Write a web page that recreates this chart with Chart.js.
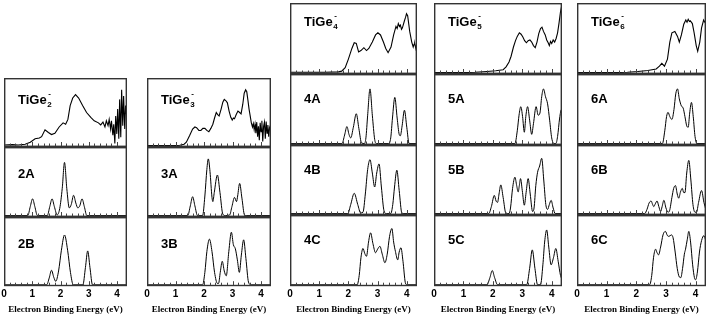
<!DOCTYPE html>
<html>
<head>
<meta charset="utf-8">
<script src="https://cdn.jsdelivr.net/npm/chart.js@4.4.1/dist/chart.umd.min.js"></script>
<style>
  html, body { margin: 0; padding: 0; background: #fff; }
  body { width: 709px; height: 316px; position: relative; overflow: hidden; }
  canvas { position: absolute; }
</style>
</head>
<body>
<script>
// --- data: [binding energy (eV), relative intensity (0..1 of panel height)] ---
const exp2 = [[0,.03],[0.3,.035],[0.5,.03],[0.75,.04],[0.93,.07],[1.1,.12],[1.25,.13],[1.33,.15],[1.45,.25],[1.57,.21],[1.68,.18],[1.8,.2],[1.95,.29],[2.09,.35],[2.18,.33],[2.26,.4],[2.34,.6],[2.43,.71],[2.53,.76],[2.64,.71],[2.78,.6],[2.92,.5],[3.07,.43],[3.19,.38],[3.34,.35],[3.42,.32],[3.5,.36],[3.57,.29],[3.62,.38],[3.68,.31],[3.72,.4],[3.77,.26],[3.8,.38],[3.85,.17],[3.88,.33],[3.92,.05],[3.95,.45],[3.99,.19],[4.02,.55],[4.06,.12],[4.09,.69],[4.13,.14],[4.16,.83],[4.2,.31],[4.23,.74],[4.27,.26],[4.3,.6],[4.35,.4]];
const sim2A = [[0,.02],[0.84,.02],[0.93,.15],[1.01,.26],[1.09,.15],[1.18,.02],[1.53,.02],[1.62,.15],[1.70,.26],[1.78,.15],[1.88,.03],[1.97,.12],[2.06,.41],[2.14,.78],[2.22,.41],[2.31,.13],[2.38,.18],[2.46,.31],[2.54,.2],[2.61,.13],[2.68,.16],[2.76,.26],[2.84,.15],[2.93,.02],[4.35,.02]];
const sim2B = [[0,.02],[1.51,.02],[1.6,.12],[1.68,.23],[1.76,.13],[1.83,.07],[1.93,.22],[2.03,.52],[2.14,.74],[2.25,.52],[2.35,.2],[2.45,.02],[2.79,.02],[2.88,.27],[2.96,.51],[3.04,.27],[3.13,.02],[4.35,.02]];

const exp3 = [[0,.02],[0.5,.02],[1.0,.02],[1.15,.025],[1.3,.04],[1.38,.07],[1.5,.17],[1.6,.26],[1.68,.29],[1.74,.28],[1.82,.24],[1.89,.24],[1.96,.27],[2.03,.27],[2.1,.24],[2.17,.22],[2.24,.27],[2.31,.33],[2.37,.42],[2.43,.5],[2.48,.47],[2.53,.45],[2.6,.55],[2.66,.65],[2.71,.69],[2.77,.67],[2.82,.64],[2.88,.52],[2.94,.43],[2.99,.39],[3.03,.42],[3.07,.41],[3.13,.47],[3.19,.52],[3.25,.5],[3.3,.48],[3.36,.62],[3.41,.78],[3.46,.83],[3.5,.8],[3.54,.68],[3.58,.55],[3.62,.45],[3.66,.35],[3.7,.29],[3.73,.34],[3.76,.25],[3.79,.33],[3.82,.2],[3.85,.36],[3.88,.15],[3.91,.3],[3.94,.1],[3.97,.35],[4.0,.22],[4.03,.38],[4.06,.08],[4.09,.3],[4.12,.36],[4.15,.12],[4.18,.37],[4.21,.2],[4.24,.32],[4.27,.15],[4.3,.28],[4.35,.22]];
const sim3A = [[0,.02],[1.43,.02],[1.52,.16],[1.6,.29],[1.68,.16],[1.77,.02],[1.95,.02],[2.03,.3],[2.1,.68],[2.15,.83],[2.21,.65],[2.28,.28],[2.31,.22],[2.36,.35],[2.47,.6],[2.56,.35],[2.66,.04],[2.75,.02],[2.9,.03],[2.98,.15],[3.07,.28],[3.14,.22],[3.18,.3],[3.25,.48],[3.33,.27],[3.42,.03],[3.5,.02],[4.35,.02]];
const sim3B = [[0,.02],[1.95,.02],[2.03,.2],[2.1,.5],[2.19,.68],[2.28,.5],[2.37,.2],[2.47,.04],[2.51,.04],[2.57,.2],[2.64,.36],[2.71,.22],[2.78,.15],[2.87,.5],[2.96,.78],[3.03,.6],[3.1,.54],[3.17,.38],[3.24,.2],[3.31,.45],[3.39,.67],[3.47,.4],[3.56,.06],[3.65,.02],[4.35,.02]];

const exp4 = [[0,.025],[0.6,.025],[1.2,.025],[1.66,.03],[1.77,.04],[1.89,.09],[2.0,.21],[2.12,.36],[2.2,.44],[2.27,.43],[2.35,.31],[2.43,.33],[2.53,.37],[2.62,.33],[2.7,.36],[2.82,.45],[2.93,.55],[3.01,.58],[3.1,.55],[3.2,.45],[3.28,.36],[3.36,.3],[3.46,.38],[3.55,.55],[3.63,.67],[3.67,.64],[3.71,.71],[3.75,.67],[3.78,.69],[3.82,.63],[3.85,.65],[3.92,.75],[3.96,.8],[3.99,.85],[4.03,.82],[4.1,.6],[4.17,.45],[4.22,.38],[4.25,.42],[4.27,.43],[4.31,.36],[4.35,.45]];
const sim4A = [[0,.02],[1.78,.02],[1.87,.14],[1.95,.26],[2.02,.15],[2.08,.1],[2.17,.25],[2.27,.44],[2.36,.23],[2.45,.03],[2.55,.02],[2.6,.1],[2.66,.42],[2.74,.79],[2.82,.42],[2.9,.08],[2.96,.02],[3.38,.02],[3.45,.1],[3.51,.38],[3.59,.67],[3.67,.38],[3.74,.15],[3.78,.13],[3.84,.27],[3.92,.49],[4.0,.25],[4.08,.02],[4.35,.02]];
const sim4B = [[0,.02],[1.98,.02],[2.08,.15],[2.2,.31],[2.32,.15],[2.42,.03],[2.5,.04],[2.58,.3],[2.66,.65],[2.74,.79],[2.82,.6],[2.9,.4],[2.97,.6],[3.05,.73],[3.13,.4],[3.22,.06],[3.3,.02],[3.45,.02],[3.52,.15],[3.58,.4],[3.66,.64],[3.74,.35],[3.83,.03],[3.9,.02],[4.35,.02]];
const sim4C = [[0,.02],[2.3,.02],[2.37,.15],[2.43,.4],[2.5,.53],[2.56,.46],[2.62,.42],[2.69,.62],[2.76,.75],[2.84,.6],[2.93,.47],[3.0,.52],[3.08,.56],[3.16,.45],[3.25,.33],[3.33,.45],[3.41,.7],[3.49,.81],[3.55,.62],[3.61,.49],[3.69,.37],[3.74,.48],[3.8,.54],[3.87,.35],[3.95,.05],[4.0,.02],[4.35,.02]];

const exp5 = [[0,.02],[0.5,.02],[1.0,.02],[1.4,.025],[1.8,.035],[2.1,.045],[2.35,.06],[2.45,.1],[2.55,.17],[2.62,.25],[2.7,.38],[2.77,.47],[2.83,.53],[2.9,.58],[2.96,.56],[3.02,.52],[3.08,.47],[3.14,.44],[3.2,.47],[3.26,.48],[3.32,.45],[3.38,.4],[3.44,.37],[3.5,.45],[3.56,.57],[3.62,.64],[3.67,.66],[3.72,.6],[3.78,.55],[3.83,.48],[3.88,.44],[3.92,.4],[3.96,.46],[4.0,.43],[4.05,.48],[4.1,.45],[4.15,.5],[4.2,.58],[4.25,.72],[4.3,.88],[4.35,.98]];
const sim5A = [[0,.02],[2.75,.02],[2.83,.2],[2.89,.42],[2.95,.54],[3.01,.4],[3.07,.18],[3.12,.4],[3.18,.54],[3.25,.35],[3.32,.15],[3.38,.3],[3.47,.54],[3.54,.42],[3.6,.45],[3.66,.68],[3.72,.79],[3.79,.68],[3.86,.58],[3.93,.35],[4.0,.1],[4.08,.02],[4.14,.02],[4.2,.12],[4.27,.38],[4.33,.5],[4.35,.5]];
const sim5B = [[0,.02],[1.86,.02],[1.95,.12],[2.05,.28],[2.11,.2],[2.16,.18],[2.21,.3],[2.27,.43],[2.35,.25],[2.44,.03],[2.55,.02],[2.6,.1],[2.67,.38],[2.75,.54],[2.81,.42],[2.86,.33],[2.9,.42],[2.94,.52],[3.0,.35],[3.07,.14],[3.13,.32],[3.2,.52],[3.27,.3],[3.35,.05],[3.4,.1],[3.46,.42],[3.52,.61],[3.59,.7],[3.66,.81],[3.73,.5],[3.8,.15],[3.86,.08],[3.92,.15],[3.98,.21],[4.05,.1],[4.12,.02],[4.35,.02]];
const sim5C = [[0,.02],[1.8,.02],[1.9,.12],[1.98,.22],[2.06,.12],[2.16,.02],[3.15,.02],[3.25,.25],[3.34,.51],[3.43,.25],[3.52,.02],[3.62,.02],[3.7,.3],[3.76,.62],[3.83,.79],[3.9,.55],[3.98,.3],[4.06,.4],[4.14,.53],[4.22,.35],[4.3,.15],[4.35,.1]];

const exp6 = [[0,.02],[0.6,.02],[1.2,.02],[1.7,.025],[2.05,.035],[2.39,.05],[2.67,.07],[2.78,.11],[2.86,.15],[2.95,.11],[3.05,.21],[3.13,.45],[3.2,.58],[3.3,.6],[3.39,.53],[3.45,.45],[3.52,.55],[3.6,.7],[3.67,.76],[3.71,.73],[3.75,.77],[3.79,.74],[3.82,.75],[3.89,.71],[3.95,.58],[4.02,.4],[4.07,.32],[4.14,.45],[4.2,.65],[4.27,.76],[4.31,.73],[4.34,.75],[4.35,.72]];
const sim6A = [[0,.02],[2.88,.02],[2.96,.2],[3.02,.4],[3.07,.46],[3.13,.4],[3.2,.36],[3.27,.5],[3.33,.72],[3.39,.79],[3.45,.65],[3.52,.55],[3.58,.52],[3.64,.4],[3.7,.27],[3.75,.25],[3.8,.45],[3.86,.6],[3.92,.4],[3.98,.12],[4.05,.02],[4.35,.02]];
const sim6B = [[0,.02],[2.28,.02],[2.36,.08],[2.43,.17],[2.5,.2],[2.55,.15],[2.59,.12],[2.64,.16],[2.7,.2],[2.76,.12],[2.82,.05],[2.87,.12],[2.93,.21],[3.0,.1],[3.07,.04],[3.12,.06],[3.2,.25],[3.26,.38],[3.32,.42],[3.38,.3],[3.43,.24],[3.49,.33],[3.55,.38],[3.6,.32],[3.64,.32],[3.7,.6],[3.77,.78],[3.84,.5],[3.91,.15],[3.98,.04],[4.03,.04],[4.1,.18],[4.2,.35],[4.28,.18],[4.35,.07]];
const sim6C = [[0,.02],[2.45,.02],[2.52,.15],[2.58,.4],[2.65,.52],[2.7,.47],[2.75,.44],[2.82,.55],[2.9,.72],[2.98,.77],[3.05,.71],[3.1,.7],[3.18,.72],[3.24,.68],[3.31,.48],[3.38,.25],[3.45,.13],[3.5,.12],[3.56,.25],[3.62,.45],[3.66,.52],[3.72,.66],[3.77,.77],[3.83,.62],[3.9,.3],[3.96,.12],[4.0,.09],[4.06,.2],[4.13,.48],[4.2,.64],[4.28,.71],[4.35,.63]];

const clusterSizes = ['2', '3', '4', '5', '6'];
const isomerLabels = [['2A', '2B'], ['3A', '3B'], ['4A', '4B', '4C'], ['5A', '5B', '5C'], ['6A', '6B', '6C']];
const columnCurves = [
  [exp2, sim2A, sim2B],
  [exp3, sim3A, sim3B],
  [exp4, sim4A, sim4B, sim4C],
  [exp5, sim5A, sim5B, sim5C],
  [exp6, sim6A, sim6B, sim6C]
];
const xTickLabels = [0, 1, 2, 3, 4];
const xMax = 4.35;
const xTitle = 'Electron Binding Energy (eV)';

// --- layout (pixels) ---
const colLeft  = [4, 147, 290, 434, 577];
const colRight = [127, 271, 417, 562, 706];
const rowEdges = [
  [78, 147, 217, 286],
  [78, 147, 217, 286],
  [3, 74, 145, 215, 286],
  [3, 74, 145, 215, 286],
  [3, 74, 145, 215, 286]
];
const labelDyTop = [22, 22, 19, 19, 19];
const labelDySim = [27, 27, 25, 25, 25];
const sidePad = 8;
const axisSpace = 31;

// frame, inward ticks and panel label
const panelPlugin = {
  id: 'panel',
  afterDatasetsDraw(chart, args, opts) {
    const { ctx, chartArea: a } = chart;
    const x = chart.scales.x;
    ctx.save();
    ctx.strokeStyle = '#333';
    ctx.lineWidth = 1.4;
    ctx.strokeRect(a.left + 0.7, a.top + 0.7, a.width - 1.4, a.height - 1.4);

    ctx.strokeStyle = '#444';
    ctx.lineWidth = 1;
    x.ticks.forEach(t => {
      const v = t.value;
      if (Math.abs(v * 5 - Math.round(v * 5)) > 1e-6 || v <= 0) return;
      const px = Math.round(x.getPixelForValue(v)) + 0.5;
      const len = xTickLabels.includes(v) ? 4 : 2.5;
      ctx.beginPath();
      ctx.moveTo(px, a.bottom - 1);
      ctx.lineTo(px, a.bottom - 1 - len);
      ctx.stroke();
    });

    ctx.fillStyle = '#000';
    ctx.textBaseline = 'middle';
    ctx.font = 'bold 13px "Liberation Sans", Arial, sans-serif';
    const lx = a.left + 14;
    const ly = a.top + opts.dy;
    ctx.fillText(opts.text, lx, ly);
    if (opts.sub) {
      const w = ctx.measureText(opts.text).width;
      ctx.font = 'bold 8px "Liberation Sans", Arial, sans-serif';
      ctx.fillText(opts.sub, lx + w + 0.5, ly + 5);
      ctx.fillText('-', lx + w + 1.5, ly - 6);
    }
    ctx.restore();
  }
};

columnCurves.forEach((curves, c) => {
  const edges = rowEdges[c];
  curves.forEach((pts, r) => {
    const isTop = r === 0;
    const isBottom = r === curves.length - 1;
    const top = edges[r];
    const h = edges[r + 1] - edges[r];
    const canvas = document.createElement('canvas');
    const w = colRight[c] - colLeft[c] + 2 * sidePad;
    const ch = h + (isBottom ? axisSpace : 0);
    canvas.width = w;
    canvas.height = ch;
    canvas.style.left = (colLeft[c] - sidePad) + 'px';
    canvas.style.top = top + 'px';
    canvas.style.width = w + 'px';
    canvas.style.height = ch + 'px';
    document.body.appendChild(canvas);

    new Chart(canvas.getContext('2d'), {
      type: 'line',
      data: {
        datasets: [{
          data: pts.map(p => ({ x: p[0], y: p[1] })),
          borderColor: '#000',
          borderWidth: isTop ? 1.1 : 1,
          pointRadius: 0,
          fill: false,
          tension: 0,
          cubicInterpolationMode: isTop ? 'default' : 'monotone'
        }]
      },
      options: {
        responsive: false,
        animation: false,
        devicePixelRatio: 1,
        layout: { padding: { left: sidePad, right: sidePad, top: 0, bottom: 0 } },
        plugins: {
          legend: { display: false },
          tooltip: { enabled: false },
          panel: {
            text: isTop ? 'TiGe' : isomerLabels[c][r - 1],
            sub: isTop ? clusterSizes[c] : null,
            dy: isTop ? labelDyTop[c] : labelDySim[c]
          }
        },
        scales: {
          x: {
            type: 'linear',
            min: 0,
            max: xMax,
            grid: { display: false, drawTicks: false },
            border: { display: false },
            ticks: {
              display: isBottom,
              stepSize: 0.2,
              autoSkip: false,
              maxRotation: 0,
              padding: 2,
              color: '#000',
              font: { family: '"Liberation Sans", Arial, sans-serif', size: 10, weight: 'bold' },
              callback: v => xTickLabels.includes(v) ? String(v) : ''
            },
            title: {
              display: isBottom,
              text: xTitle,
              color: '#000',
              padding: { top: 2, bottom: 2 },
              font: { family: '"Liberation Serif", "Times New Roman", serif', size: 9, weight: 'bold' }
            }
          },
          y: { display: false, min: 0, max: 1 }
        }
      },
      plugins: [panelPlugin]
    });
  });
});
</script>
</body>
</html>
